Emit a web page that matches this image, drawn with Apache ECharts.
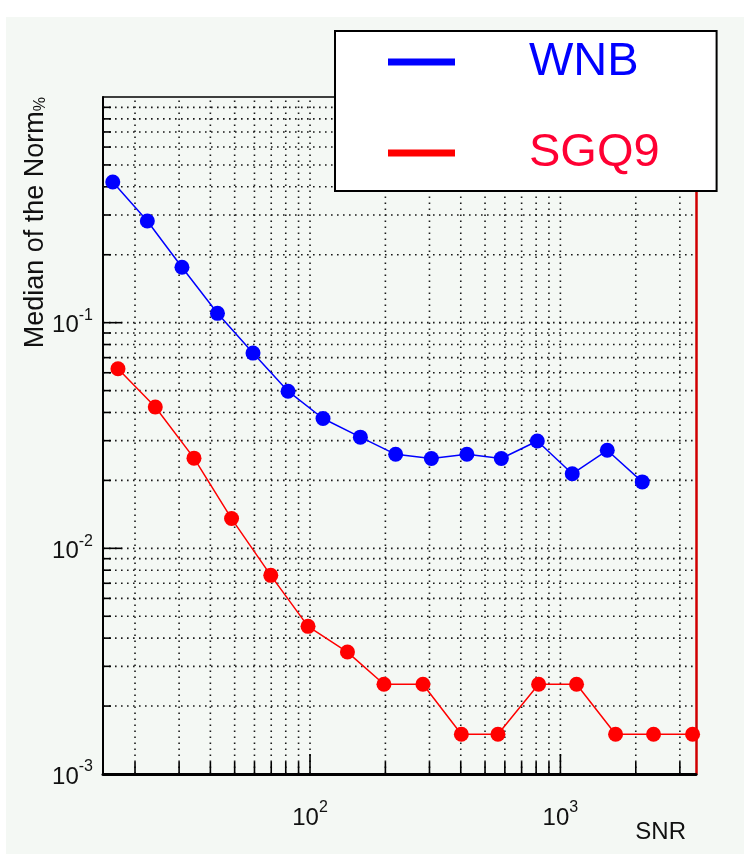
<!DOCTYPE html>
<html>
<head>
<meta charset="utf-8">
<title>Median of the Norm vs SNR</title>
<script src="https://cdn.jsdelivr.net/npm/echarts@6/dist/echarts.min.js"></script>
<style>
  html, body { margin: 0; padding: 0; background: #ffffff; }
  #chart { width: 744px; height: 854px; }
</style>
</head>
<body>
<div id="chart"></div>
<script>
// WNB waveform: SNR and median norm
const wnbSNR  = [16.3, 22.4, 30.8, 42.7, 59.2, 81.7, 112.7, 158.9, 219.8, 305.2, 423.2, 580.7, 808.7, 1115, 1539, 2123];
const wnbNorm = [0.42, 0.282, 0.176, 0.110, 0.0733, 0.0497, 0.0376, 0.0311, 0.0261, 0.0250, 0.0261, 0.0250, 0.0299, 0.0214, 0.0272, 0.0197];

// SGQ9 waveform: SNR and median norm
const sgqSNR  = [17.1, 24.1, 34.4, 48.6, 69.7, 98.2, 141.1, 197.4, 282.5, 402.2, 563, 818.5, 1160, 1661, 2355, 3372];
const sgqNorm = [0.0625, 0.0423, 0.0251, 0.01355, 0.00759, 0.00451, 0.00347, 0.0025, 0.0025, 0.0015, 0.0015, 0.0025, 0.0025, 0.0015, 0.0015, 0.0015];

// grid / tick positions on the log axes
const xGridValues = [20, 30, 40, 50, 60, 70, 80, 90, 100, 200, 300, 400, 500, 600, 700, 800, 900, 1000, 2000, 3000];
const yGridValues = [0.002, 0.003, 0.004, 0.005, 0.006, 0.007, 0.008, 0.009, 0.01,
                     0.02, 0.03, 0.04, 0.05, 0.06, 0.07, 0.08, 0.09, 0.1,
                     0.2, 0.3, 0.4, 0.5, 0.6, 0.7, 0.8, 0.9];

const X_MIN = 14.9, X_MAX = 3480;
const Y_MIN = 0.001, Y_MAX = 1;

const FONT = "'Liberation Sans', Arial, Helvetica, sans-serif";
const BG = '#f4f8f4';

function isDecade(v) {
  const e = Math.log10(v);
  return Math.abs(e - Math.round(e)) < 1e-6;
}
function powLabel(v) {
  if (!isDecade(v)) return '';
  return '{b|10}{s|' + Math.round(Math.log10(v)) + '}';
}
const powRich = {
  b: { fontSize: 24, fontFamily: FONT, color: '#111', lineHeight: 30, verticalAlign: 'bottom' },
  s: { fontSize: 16, fontFamily: FONT, color: '#111', lineHeight: 30, verticalAlign: 'top' }
};

const dotted = { stroke: '#1a1a1a', lineWidth: 1.6, lineDash: [1.6, 4.4] };
const tickStyle = { stroke: '#000', lineWidth: 1.6 };

const chart = echarts.init(document.getElementById('chart'), null, { renderer: 'canvas' });

chart.setOption({
  animation: false,
  backgroundColor: '#ffffff',
  graphic: [{
    type: 'rect', left: 6, top: 17, z: -10, silent: true,
    shape: { width: 738, height: 837 },
    style: { fill: BG }
  }],
  grid: { left: 103, top: 97, width: 593, height: 677, show: false },
  legend: {
    left: 335, top: 31,
    orient: 'vertical',
    backgroundColor: '#ffffff',
    borderColor: '#000000',
    borderWidth: 2,
    padding: [3, 57, 10, 53],
    itemGap: 35,
    itemWidth: 67,
    itemHeight: 7,
    icon: 'rect',
    selectedMode: false,
    formatter: '{gap|}{name}',
    textStyle: { fontSize: 47, fontFamily: FONT, lineHeight: 56,
      rich: { gap: { width: 69 } } },
    data: [
      { name: 'WNB', itemStyle: { color: '#0000ff' }, textStyle: { color: '#0000ff' } },
      { name: 'SGQ9', itemStyle: { color: '#ff0000' }, textStyle: { color: '#ff0033' } }
    ]
  },
  xAxis: [{
    type: 'log', logBase: 10, min: X_MIN, max: X_MAX, position: 'bottom',
    name: 'SNR', nameLocation: 'end', nameGap: -10,
    nameTextStyle: { fontSize: 24, fontFamily: FONT, color: '#111', align: 'right', verticalAlign: 'top', padding: [46, 0, 0, 0] },
    axisLine: { show: true, onZero: false, lineStyle: { color: '#000', width: 3 } },
    axisTick: { show: false }, splitLine: { show: false }, minorTick: { show: false },
    axisLabel: { margin: 26, formatter: powLabel, rich: powRich, showMinLabel: false, showMaxLabel: false }
  }, {
    type: 'log', logBase: 10, min: X_MIN, max: X_MAX, position: 'top',
    axisLine: { show: true, onZero: false, lineStyle: { color: '#000', width: 1.5 } },
    axisTick: { show: false }, axisLabel: { show: false }, splitLine: { show: false }
  }],
  yAxis: [{
    type: 'log', logBase: 10, min: Y_MIN, max: Y_MAX, position: 'left',
    name: 'Median of the Norm{sub|%}', nameLocation: 'end', nameGap: 0, nameRotate: 90,
    nameTextStyle: { fontSize: 27, fontFamily: FONT, color: '#111', align: 'right', verticalAlign: 'bottom',
      padding: [0, 0, 54, 0],
      rich: { sub: { fontSize: 16, fontFamily: FONT, color: '#111', verticalAlign: 'bottom' } } },
    axisLine: { show: true, onZero: false, lineStyle: { color: '#000', width: 2 } },
    axisTick: { show: false }, splitLine: { show: false }, minorTick: { show: false },
    axisLabel: { margin: 10, formatter: powLabel, rich: powRich, showMinLabel: true, showMaxLabel: false }
  }, {
    type: 'log', logBase: 10, min: Y_MIN, max: Y_MAX, position: 'right',
    axisLine: { show: true, onZero: false, lineStyle: { color: '#d00000', width: 2.5 } },
    axisTick: { show: false }, axisLabel: { show: false }, splitLine: { show: false }
  }],
  series: [
    {
      // vertical dotted grid lines and bottom ticks
      type: 'custom', silent: true, z: 1, xAxisIndex: 0, yAxisIndex: 0,
      data: xGridValues.map(v => [v, Y_MIN]),
      renderItem: (params, api) => {
        const v = api.value(0);
        const p0 = api.coord([v, Y_MIN]);
        const p1 = api.coord([v, Y_MAX]);
        const len = isDecade(v) ? 20 : 12;
        return { type: 'group', children: [
          { type: 'line', shape: { x1: p0[0], y1: p0[1], x2: p1[0], y2: p1[1] }, style: dotted },
          { type: 'line', shape: { x1: p0[0], y1: p0[1], x2: p0[0], y2: p0[1] - len }, style: tickStyle }
        ] };
      }
    },
    {
      // horizontal dotted grid lines and left ticks
      type: 'custom', silent: true, z: 1, xAxisIndex: 0, yAxisIndex: 0,
      data: yGridValues.map(v => [X_MIN, v]),
      renderItem: (params, api) => {
        const v = api.value(1);
        const p0 = api.coord([X_MIN, v]);
        const p1 = api.coord([X_MAX, v]);
        const len = isDecade(v) ? 19 : 8;
        return { type: 'group', children: [
          { type: 'line', shape: { x1: p0[0], y1: p0[1], x2: p1[0], y2: p1[1] }, style: dotted },
          { type: 'line', shape: { x1: p0[0], y1: p0[1], x2: p0[0] + len, y2: p0[1] }, style: tickStyle }
        ] };
      }
    },
    {
      name: 'WNB', type: 'line', z: 5,
      data: wnbSNR.map((x, i) => [x, wnbNorm[i]]),
      symbol: 'circle', symbolSize: 15,
      itemStyle: { color: '#0000ff' },
      lineStyle: { color: '#0000ff', width: 1.5 }
    },
    {
      name: 'SGQ9', type: 'line', z: 5,
      data: sgqSNR.map((x, i) => [x, sgqNorm[i]]),
      symbol: 'circle', symbolSize: 15,
      itemStyle: { color: '#ff0000' },
      lineStyle: { color: '#ff0000', width: 1.5 }
    }
  ]
});
</script>
</body>
</html>
